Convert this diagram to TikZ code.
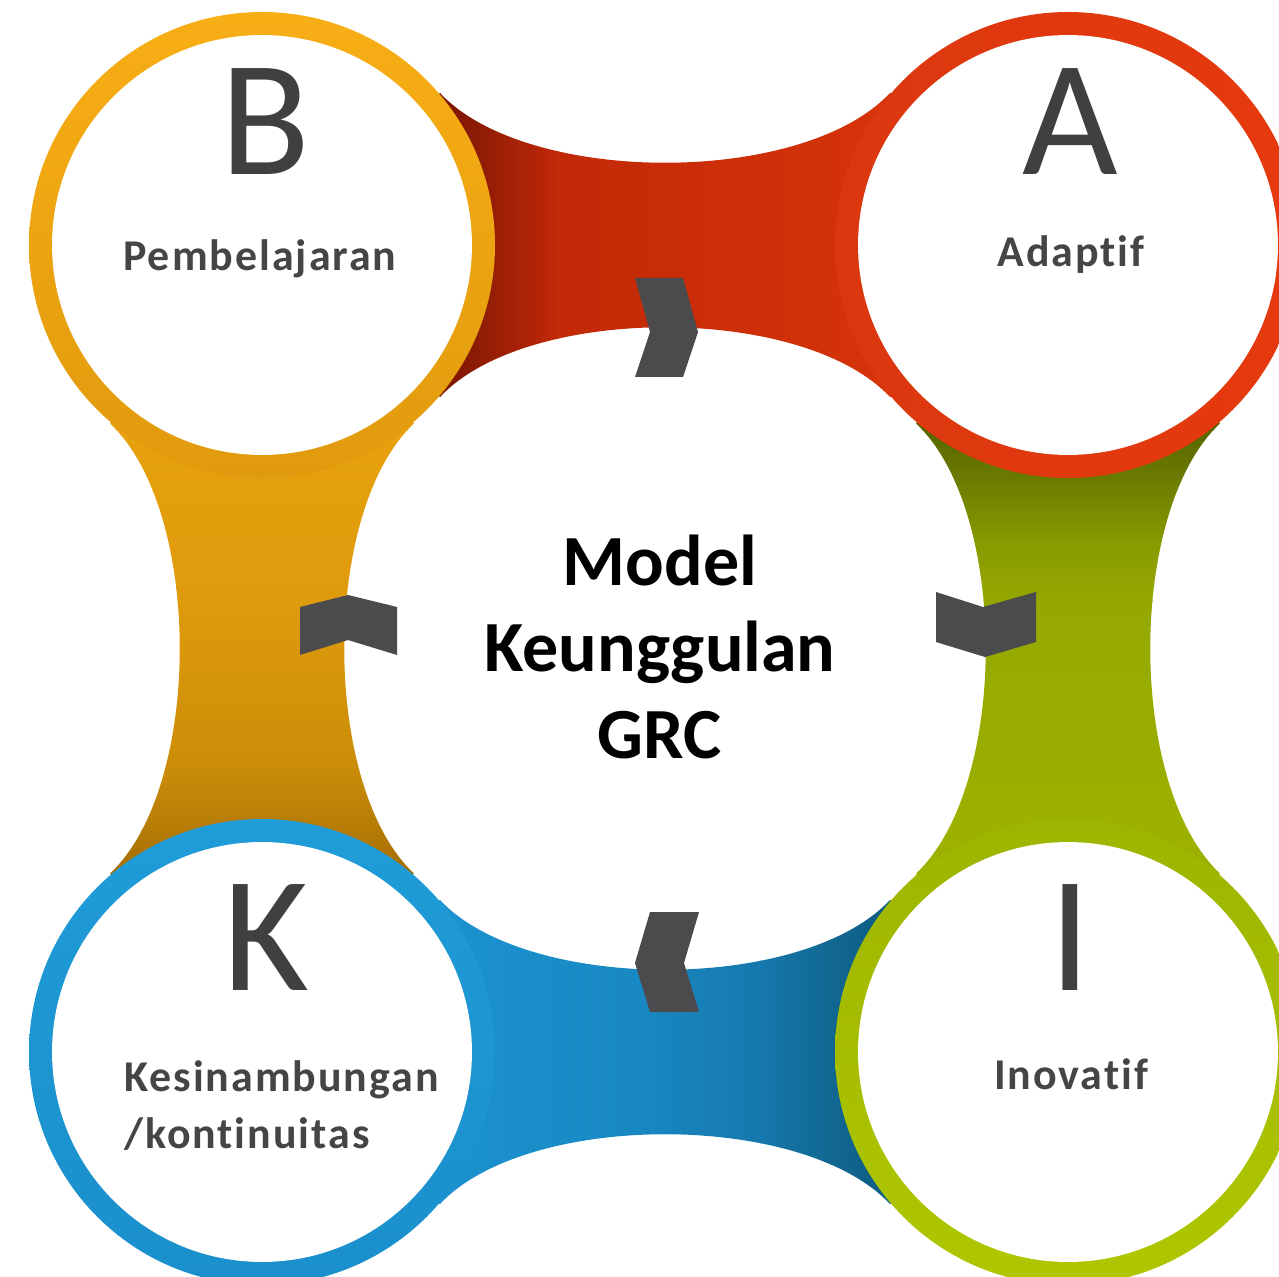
\documentclass[tikz,border=0pt]{standalone}
\usepackage{fontspec}
\newfontfamily\carlito[Ligatures={NoCommon,NoContextual}]{Carlito}
\newfontfamily\carlitosp[Ligatures={NoCommon,NoContextual},LetterSpace=4.5]{Carlito}
\definecolor{lettergray}{HTML}{404040}
\definecolor{labelgray}{HTML}{454545}
\definecolor{chevgray}{HTML}{4B4B4D}
% top band (red)
\definecolor{tb1}{HTML}{7A1503}
\definecolor{tb2}{HTML}{931D05}
\definecolor{tb3}{HTML}{C22907}
\definecolor{tb4}{HTML}{D6340A}
% right band (green)
\definecolor{gb1}{HTML}{5A6600}
\definecolor{gb2}{HTML}{6C7C00}
\definecolor{gb3}{HTML}{879A00}
\definecolor{gb4}{HTML}{95A800}
\definecolor{gb5}{HTML}{9DB200}
% bottom band (blue)
\definecolor{bb1}{HTML}{1B92CE}
\definecolor{bb2}{HTML}{1888C2}
\definecolor{bb3}{HTML}{1678AC}
\definecolor{bb4}{HTML}{116892}
\definecolor{bb5}{HTML}{0E5C82}
% left band (orange)
\definecolor{ob1}{HTML}{E7A10E}
\definecolor{ob2}{HTML}{DE9B0C}
\definecolor{ob3}{HTML}{CC8E09}
\definecolor{ob4}{HTML}{B57B06}
\definecolor{ob5}{HTML}{A26B04}
% rings
\definecolor{Btop}{HTML}{F8AE15}
\definecolor{Bbot}{HTML}{E09A0D}
\definecolor{Aleft}{HTML}{DB370F}
\definecolor{Aright}{HTML}{E63A0E}
\definecolor{Ktop}{HTML}{1F9CD8}
\definecolor{Kbot}{HTML}{1A8FCB}
\definecolor{Itop}{HTML}{9DB500}
\definecolor{Ibot}{HTML}{AFC600}
\begin{document}
\begin{tikzpicture}[x=0.02cm,y=-0.02cm,
  letter/.style={font=\carlito\fontsize{94}{94}\selectfont, text=lettergray, inner sep=0},
  lbl/.style={font=\carlitosp\bfseries\fontsize{25}{32.4}\selectfont, text=labelgray, inner sep=0},
  hole/.style={circle, fill=white, minimum size=8.4cm, inner sep=0},
  chev/.style={fill=chevgray}]
\useasboundingbox (0,0) rectangle (1279,1277);
\clip (0,0) rectangle (1279,1277);

% ---- top band B -> A
\begin{scope}
\clip (440,93) .. controls (527,186) and (803,186) .. (890,93) -- (1068,245)
  -- (890,397) .. controls (803,304) and (527,304) .. (440,397) -- (262,245) -- cycle;
\fill[tb1] (250,60) rectangle (441,430);
\shade[left color=tb1, right color=tb2] (440,60) rectangle (488,430);
\shade[left color=tb2, right color=tb3] (487,60) rectangle (559,430);
\shade[left color=tb3, right color=tb4] (558,60) rectangle (891,430);
\fill[tb4] (890,60) rectangle (1080,430);
\end{scope}

% ---- right band A -> I
\begin{scope}
\clip (1220,423.5) .. controls (1127,510.5) and (1127,786.5) .. (1220,873.5) -- (1068,1052)
  -- (916,873.5) .. controls (1009,786.5) and (1009,510.5) .. (916,423.5) -- (1068,245) -- cycle;
\fill[gb1] (880,230) rectangle (1260,431);
\shade[top color=gb1, bottom color=gb2] (880,430) rectangle (1260,481);
\shade[top color=gb2, bottom color=gb3] (880,480) rectangle (1260,541);
\shade[top color=gb3, bottom color=gb4] (880,540) rectangle (1260,601);
\shade[top color=gb4, bottom color=gb5] (880,600) rectangle (1260,881);
\fill[gb5] (880,880) rectangle (1260,1070);
\end{scope}

% ---- bottom band K -> I
\begin{scope}
\clip (440,1204) .. controls (527,1111) and (803,1111) .. (890,1204) -- (1068,1052)
  -- (890,900) .. controls (803,993) and (527,993) .. (440,900) -- (262,1052) -- cycle;
\fill[bb1] (250,870) rectangle (441,1230);
\shade[left color=bb1, right color=bb2] (440,870) rectangle (641,1230);
\shade[left color=bb2, right color=bb3] (640,870) rectangle (761,1230);
\shade[left color=bb3, right color=bb4] (760,870) rectangle (831,1230);
\shade[left color=bb4, right color=bb5] (830,870) rectangle (891,1230);
\fill[bb5] (890,870) rectangle (1080,1230);
\end{scope}

% ---- left band B -> K
\begin{scope}
\clip (110,423.5) .. controls (203,510.5) and (203,786.5) .. (110,873.5) -- (262,1052)
  -- (414,873.5) .. controls (321,786.5) and (321,510.5) .. (414,423.5) -- (262,245) -- cycle;
\fill[ob1] (80,230) rectangle (440,431);
\shade[top color=ob1, bottom color=ob2] (80,430) rectangle (440,601);
\shade[top color=ob2, bottom color=ob3] (80,600) rectangle (440,761);
\shade[top color=ob3, bottom color=ob4] (80,760) rectangle (440,831);
\shade[top color=ob4, bottom color=ob5] (80,830) rectangle (440,881);
\fill[ob5] (80,880) rectangle (440,1070);
\end{scope}

% ---- central circle
\node[circle, fill=white, minimum size=12.64cm, inner sep=0] (M) at (665,648) {};

% ---- corner circles
\shade[top color=Btop, bottom color=Bbot] (262,245) circle (233);
\node[hole] (B) at (262,245) {};
\shade[left color=Aleft, right color=Aright] (1068,245) circle (233);
\node[hole] (A) at (1068,245) {};
\shade[top color=Ktop, bottom color=Kbot] (262,1052) circle (233);
\node[hole] (K) at (262,1052) {};
\shade[top color=Itop, bottom color=Ibot] (1068,1052) circle (233);
\node[hole] (I) at (1068,1052) {};

% ---- chevrons
\fill[chev] (635,278) -- (683,278) -- (698,332) -- (683,377) -- (635,377) -- (650,332) -- cycle;
\fill[chev] (936,592) -- (983,607) -- (1036,592) -- (1036,642) -- (985,657) -- (936,642) -- cycle;
\fill[chev] (650,912) -- (699,912) -- (684,963) -- (699,1012) -- (650,1012) -- (635,963) -- cycle;
\fill[chev] (300,607) -- (348,595) -- (397,607) -- (397,655) -- (348,640) -- (300,655) -- cycle;

% ---- texts
\node[letter, anchor=base] (Bl) at (265,175) {B};
\node[lbl, anchor=base] (Bt) at (260,271) {Pembelajaran};
\node[letter, anchor=base] (Al) at (1070,175) {A};
\node[lbl, anchor=base] (At) at (1071,267) {Adaptif};
\node[letter, anchor=base] (Kl) at (266,990) {K};
\node[lbl, anchor=base west, align=left] (Kt) at (124,1148) {Kesinambungan\\/kontinuitas};
\node[letter, anchor=base] (Il) at (1070,990) {I};
\node[lbl, anchor=base] (It) at (1071,1089) {Inovatif};
\node[font=\carlito\bfseries\fontsize{41}{49.2}\selectfont, align=center, anchor=base, inner sep=0] (Mt) at (660,758) {Model\\Keunggulan\\GRC};
\end{tikzpicture}
\end{document}
